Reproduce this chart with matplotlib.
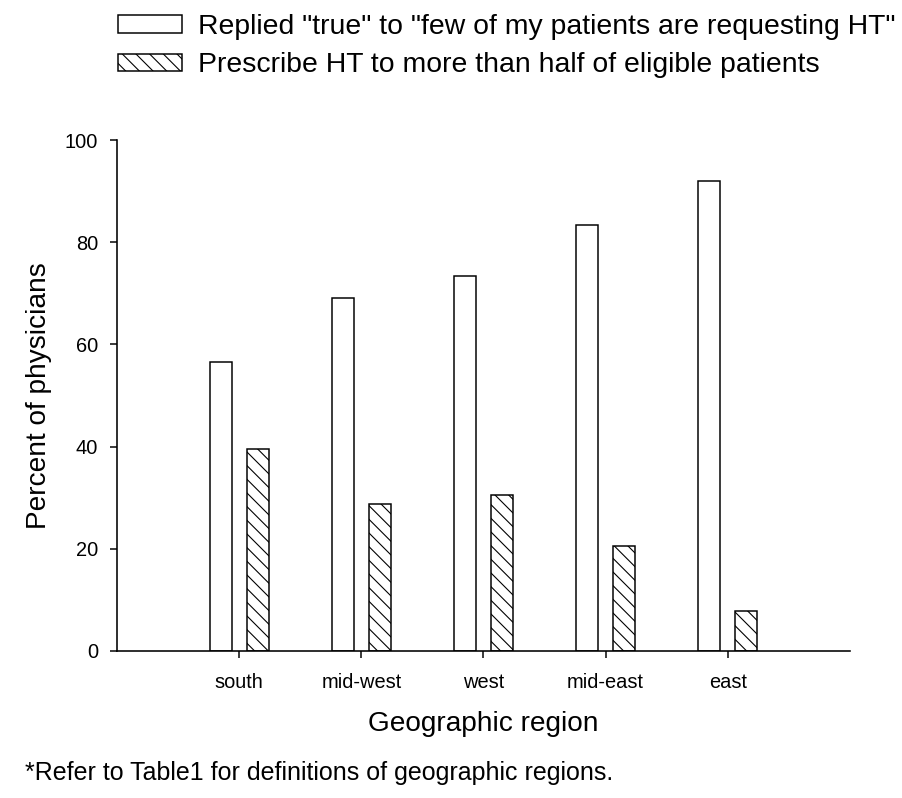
import matplotlib
matplotlib.use("Agg")
import matplotlib.pyplot as plt
import numpy as np

regions = ["south", "mid-west", "west", "mid-east", "east"]
few_requesting = [56.5, 69.0, 73.3, 83.4, 92.0]
prescribe_half = [39.6, 28.7, 30.5, 20.5, 7.8]
yticks = [0, 20, 40, 60, 80, 100]

DPI = 82
PX = 72.0 / DPI  # points per pixel

plt.rcParams['font.family'] = ['Liberation Sans', 'DejaVu Sans']
plt.rcParams['hatch.linewidth'] = 1.1 * PX
plt.rcParams['hatch.color'] = 'black'

fig = plt.figure(figsize=(902 / DPI, 798 / DPI), dpi=DPI)
ax = fig.add_axes([117 / 902, 1 - 651 / 798, (850 - 117) / 902, (651 - 140) / 798])

x = np.arange(len(regions))
w = 0.18
off = 0.152
b1 = ax.bar(x - off, few_requesting, width=w, facecolor='white', edgecolor='black',
            linewidth=1.5 * PX, label='Replied "true" to "few of my patients are requesting HT"')
b2 = ax.bar(x + off, prescribe_half, width=w, facecolor='white', edgecolor='black',
            linewidth=1.5 * PX, hatch='\\\\',
            label='Prescribe HT to more than half of eligible patients')

ax.set_xlim(-1, 5)
ax.set_ylim(0, 100)
ax.set_xticks(x)
ax.set_xticklabels(regions)
ax.set_yticks(yticks)
for s in ['top', 'right']:
    ax.spines[s].set_visible(False)
for s in ['left', 'bottom']:
    ax.spines[s].set_linewidth(1.6 * PX)
ax.tick_params(axis='both', direction='out', length=7 * PX, width=1.5 * PX,
               labelsize=20 * PX)
ax.tick_params(axis='x', pad=15 * PX)
ax.tick_params(axis='y', pad=12 * PX)

ax.set_xlabel('Geographic region', fontsize=28 * PX, labelpad=19 * PX)
ax.set_ylabel('Percent of physicians', fontsize=28 * PX, labelpad=13 * PX)

fig.legend(handles=[b1, b2], loc='upper left', bbox_to_anchor=(118 / 902, 1 - 14 / 798),
           frameon=False, fontsize=28.4 * PX, handlelength=2.27, handleheight=0.57,
           handletextpad=0.53, labelspacing=0.44, borderpad=0, borderaxespad=0)

fig.text(25 / 902, 1 - 780 / 798, '*Refer to Table1 for definitions of geographic regions.',
         fontsize=25 * PX, ha='left', va='baseline')

fig.savefig('out.png', dpi=DPI)
